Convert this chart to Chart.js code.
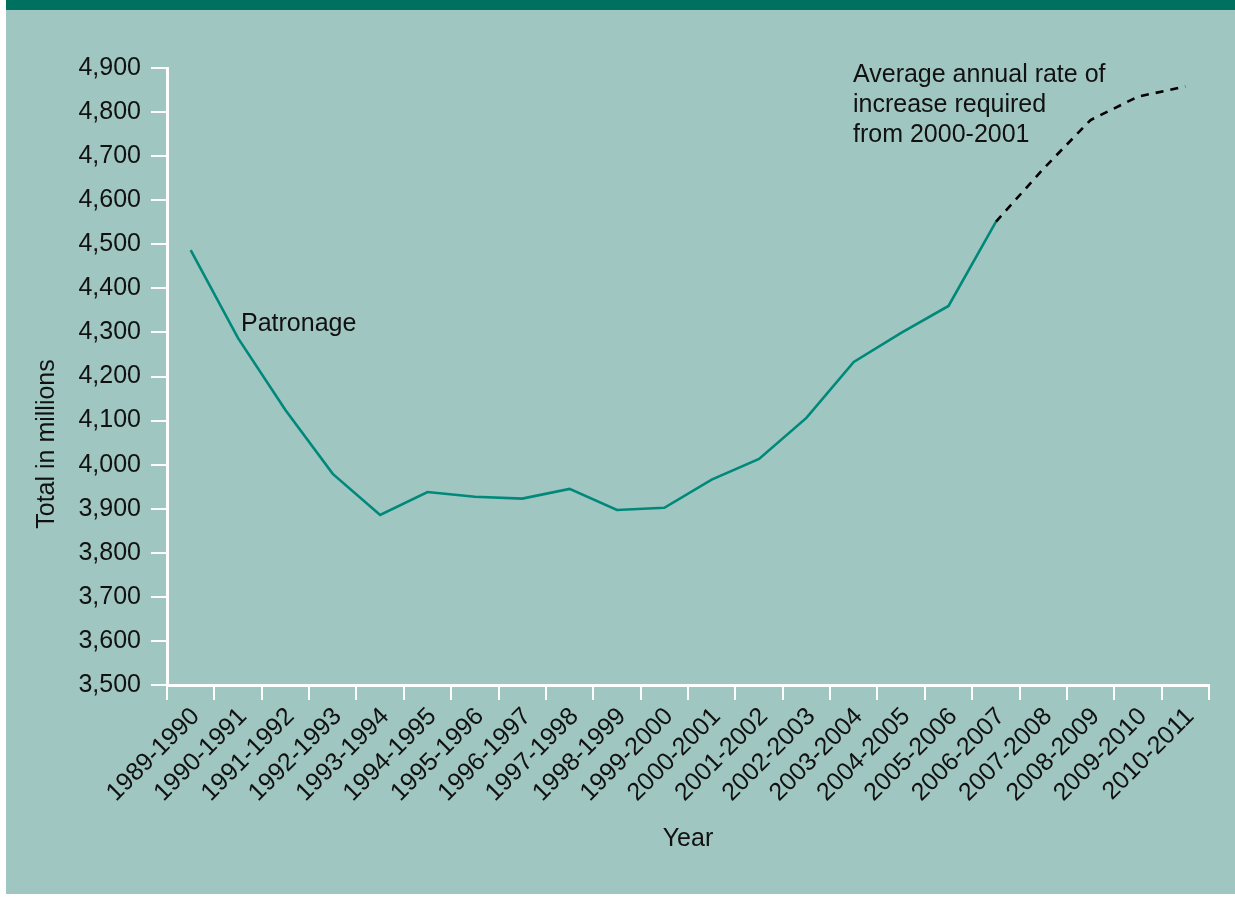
<!DOCTYPE html>
<html>
<head>
<meta charset="utf-8">
<script src="https://cdn.jsdelivr.net/npm/chart.js@4/dist/chart.umd.min.js"></script>
<style>
  html, body { margin: 0; padding: 0; background: #ffffff; }
  body { width: 1235px; height: 902px; position: relative; overflow: hidden; }
  .panel {
    position: absolute; left: 6px; top: 0; width: 1229px; height: 894px;
    background: #9fc6c0; box-sizing: border-box; border-top: 10px solid #007161;
  }
  #chart { position: absolute; left: 0; top: 0; }
</style>
</head>
<body>
<div class="panel"></div>
<canvas id="chart" width="1235" height="902"></canvas>
<script>
// Rok (finančný rok) – kategórie osi X
const years = [
  '1989-1990', '1990-1991', '1991-1992', '1992-1993', '1993-1994', '1994-1995',
  '1995-1996', '1996-1997', '1997-1998', '1998-1999', '1999-2000', '2000-2001',
  '2001-2002', '2002-2003', '2003-2004', '2004-2005', '2005-2006', '2006-2007',
  '2007-2008', '2008-2009', '2009-2010', '2010-2011'
];

// Skutočný počet ciest (mil.)
const patronage = [
  4487, 4287, 4124, 3979, 3886, 3938, 3927, 3923, 3945, 3897, 3902, 3966,
  4013, 4106, 4233, 4299, 4360, 4551, null, null, null, null
];

// Požadovaný rast od 2000-2001 (prerušovaná čiara)
const required = [
  null, null, null, null, null, null, null, null, null, null, null, null,
  null, null, null, null, null, 4551, 4671, 4782, 4835, 4858
];

const yMin = 3500, yMax = 4900, yStep = 100;

const FONT = "'Liberation Sans', Arial, Helvetica, sans-serif";
Chart.defaults.font.family = FONT;
Chart.defaults.color = '#111111';

// Popisky priamo v grafe (názov osi Y, "Patronage", poznámka)
const textLabels = {
  id: 'textLabels',
  afterDraw(chart) {
    const ctx = chart.ctx;
    ctx.save();
    ctx.fillStyle = '#111111';

    ctx.font = '25px ' + FONT;
    ctx.save();
    ctx.translate(47, 444);
    ctx.rotate(-Math.PI / 2);
    ctx.textAlign = 'center';
    ctx.textBaseline = 'middle';
    ctx.fillText('Total in millions', 0, 0);
    ctx.restore();

    ctx.textAlign = 'left';
    ctx.textBaseline = 'alphabetic';
    ctx.fillText('Patronage', 241, 331);

    const note = ['Average annual rate of', 'increase required', 'from 2000-2001'];
    note.forEach((line, i) => ctx.fillText(line, 853, 82 + i * 30));
    ctx.restore();
  }
};

new Chart(document.getElementById('chart'), {
  type: 'line',
  data: {
    labels: years,
    datasets: [
      {
        label: 'Patronage',
        data: patronage,
        borderColor: '#00897a',
        borderWidth: 2.6,
        pointRadius: 0,
        tension: 0,
        spanGaps: false
      },
      {
        label: 'Required',
        data: required,
        borderColor: '#000000',
        borderWidth: 2.6,
        borderDash: [8, 7],
        pointRadius: 0,
        tension: 0
      }
    ]
  },
  options: {
    responsive: false,
    animation: false,
    layout: { padding: { top: 68, right: 26, left: 0, bottom: 0 } },
    plugins: {
      legend: { display: false },
      tooltip: { enabled: false }
    },
    scales: {
      x: {
        offset: true,
        grid: {
          offset: true,
          drawOnChartArea: false,
          color: '#ffffff',
          lineWidth: 2,
          tickLength: 15
        },
        border: { color: '#ffffff', width: 3 },
        ticks: {
          autoSkip: false,
          maxRotation: 45,
          minRotation: 45,
          padding: 2,
          labelOffset: 5,
          font: { size: 25 },
          color: '#111111'
        },
        title: {
          display: true,
          text: 'Year',
          font: { size: 25 },
          color: '#111111',
          padding: { top: 0, bottom: 48 }
        },
        afterFit(scale) { scale.height = 217; }
      },
      y: {
        min: yMin,
        max: yMax,
        grid: {
          drawOnChartArea: false,
          color: '#ffffff',
          lineWidth: 2,
          tickLength: 16
        },
        border: { color: '#ffffff', width: 3 },
        ticks: {
          stepSize: yStep,
          padding: 10,
          font: { size: 25 },
          color: '#111111',
          callback: v => v.toLocaleString('en-US')
        },
        afterFit(scale) { scale.width = 167; }
      }
    }
  },
  plugins: [textLabels]
});
</script>
</body>
</html>
